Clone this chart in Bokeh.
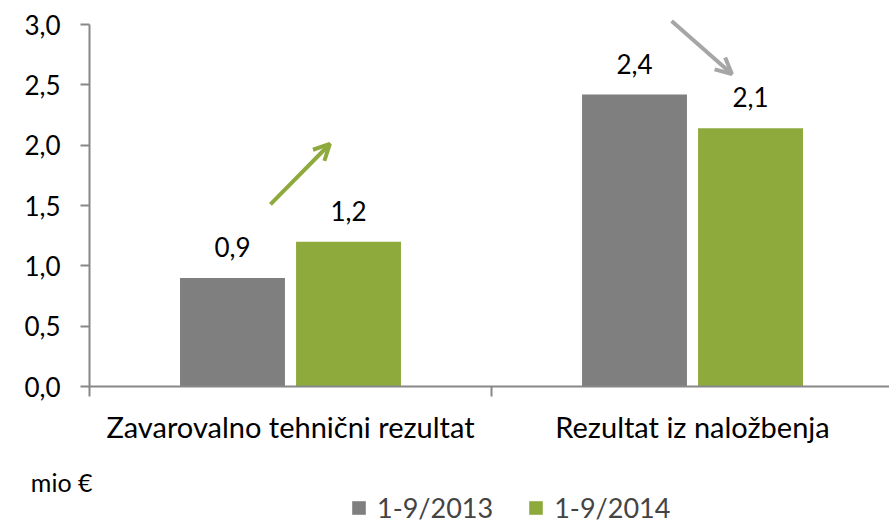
from bokeh.plotting import figure
from bokeh.layouts import column
from bokeh.models import (Range1d, FixedTicker, ColumnDataSource, Legend, LegendItem,
                          Arrow, OpenHead, LinearAxis)
from bokeh.core.properties import value
from bokeh.embed import file_html
from bokeh.resources import INLINE

# ---- data ----
categories = ["Zavarovalno tehnični rezultat", "Rezultat iz naložbenja"]
series_names = ["1-9/2013", "1-9/2014"]
values_2013 = [0.9, 2.42]
values_2014 = [1.2, 2.14]
y_ticks = [0.0, 0.5, 1.0, 1.5, 2.0, 2.5, 3.0]
unit_label = "mio €"

# ---- styles ----
FONT = "Lato"
GRAY = "#7f7f7f"
GREEN = "#8eaa3d"
AXIS = "#878787"
ARROW_GRAY = "#a6a6a6"
BAR_W = 0.261
OFF = 0.1443


def fmt(v):
    return f"{v:.1f}".replace(".", ",")


centers = [i + 0.5 for i in range(len(categories))]
x13 = [c - OFF for c in centers]
x14 = [c + OFF for c in centers]

src13 = ColumnDataSource(dict(x=x13, top=values_2013, lbl=[fmt(v) for v in values_2013]))
src14 = ColumnDataSource(dict(x=x14, top=values_2014, lbl=[fmt(v) for v in values_2014]))

p = figure(width=889, height=460, output_backend="svg", toolbar_location=None,
           x_range=Range1d(0, 1.99), y_range=Range1d(0, 3.05),
           min_border_left=89, min_border_right=0, min_border_top=18, min_border_bottom=74,
           x_axis_type=None, y_axis_type=None)
p.outline_line_color = None
p.background_fill_color = "white"
p.border_fill_color = "white"

r13 = p.vbar(x="x", top="top", width=BAR_W, bottom=0, source=src13,
             fill_color=GRAY, line_color=None)
r14 = p.vbar(x="x", top="top", width=BAR_W, bottom=0, source=src14,
             fill_color=GREEN, line_color=None)

for src in (src13, src14):
    p.text(x="x", y="top", text="lbl", source=src, text_align="center",
           text_baseline="alphabetic", y_offset=-31, text_font=value(FONT),
           text_font_size="26px", text_color="black")

# y axis
yax = LinearAxis(ticker=FixedTicker(ticks=y_ticks), bounds=(0, 3.0),
                 major_label_overrides={t: fmt(t) for t in y_ticks})
yax.axis_line_color = AXIS
yax.axis_line_width = 2
yax.major_tick_line_color = AXIS
yax.major_tick_line_width = 2
yax.major_tick_out = 9
yax.major_tick_in = 0
yax.minor_tick_line_color = None
yax.major_label_text_font = FONT
yax.major_label_text_font_size = "26px"
yax.major_label_text_color = "black"
yax.major_label_standoff = 20
p.add_layout(yax, "left")

# x axis
bounds = [float(i) for i in range(len(categories) + 1)]
xax = LinearAxis(ticker=FixedTicker(ticks=centers, minor_ticks=bounds),
                 major_label_overrides={c: n for c, n in zip(centers, categories)})
xax.axis_line_color = AXIS
xax.axis_line_width = 2
xax.major_tick_line_color = None
xax.minor_tick_line_color = AXIS
xax.minor_tick_line_width = 2
xax.minor_tick_out = 10
xax.minor_tick_in = 0
xax.major_label_text_font = FONT
xax.major_label_text_font_size = "29px"
xax.major_label_text_color = "black"
xax.major_label_standoff = 12
p.add_layout(xax, "below")

p.xgrid.visible = False
p.ygrid.visible = False

# arrows
p.add_layout(Arrow(end=OpenHead(line_color=GREEN, line_width=4, size=16),
                   x_start=0.450, y_start=1.51, x_end=0.598, y_end=2.01,
                   line_color=GREEN, line_width=4))
p.add_layout(Arrow(end=OpenHead(line_color=ARROW_GRAY, line_width=4, size=16),
                   x_start=1.448, y_start=3.03, x_end=1.598, y_end=2.59,
                   line_color=ARROW_GRAY, line_width=4))

# ---- footer strip: unit label + legend ----
p2 = figure(width=889, height=63, output_backend="svg", toolbar_location=None,
            x_range=Range1d(0, 1.99), y_range=Range1d(0, 63),
            min_border_left=89, min_border_right=0, min_border_top=0, min_border_bottom=0,
            x_axis_type=None, y_axis_type=None)
p2.outline_line_color = None
p2.xgrid.visible = False
p2.ygrid.visible = False

# unit label drawn as the single tick label of an invisible left axis
uax = LinearAxis(ticker=FixedTicker(ticks=[42]), major_label_overrides={42: unit_label})
uax.axis_line_color = None
uax.major_tick_line_color = None
uax.minor_tick_line_color = None
uax.major_tick_out = 0
uax.major_tick_in = 0
uax.major_label_standoff = -3
uax.major_label_text_font = FONT
uax.major_label_text_font_size = "25px"
uax.major_label_text_color = "black"
p2.add_layout(uax, "left")

g13 = p2.vbar(x="x", top="top", width=BAR_W, bottom=0, source=src13,
              fill_color=GRAY, line_color=None, visible=False)
g14 = p2.vbar(x="x", top="top", width=BAR_W, bottom=0, source=src14,
              fill_color=GREEN, line_color=None, visible=False)

legend = Legend(items=[LegendItem(label=series_names[0], renderers=[g13]),
                       LegendItem(label=series_names[1], renderers=[g14])],
                orientation="horizontal", location=(261, -1),
                padding=0, margin=0, spacing=34, label_standoff=10,
                glyph_width=17, glyph_height=17,
                label_text_font=FONT, label_text_font_size="27px",
                border_line_color=None, background_fill_alpha=0,
                inactive_fill_alpha=0)
p2.add_layout(legend, "center")

layout = column(p, p2, spacing=0)
open("out.html", "w").write(file_html(layout, INLINE))
